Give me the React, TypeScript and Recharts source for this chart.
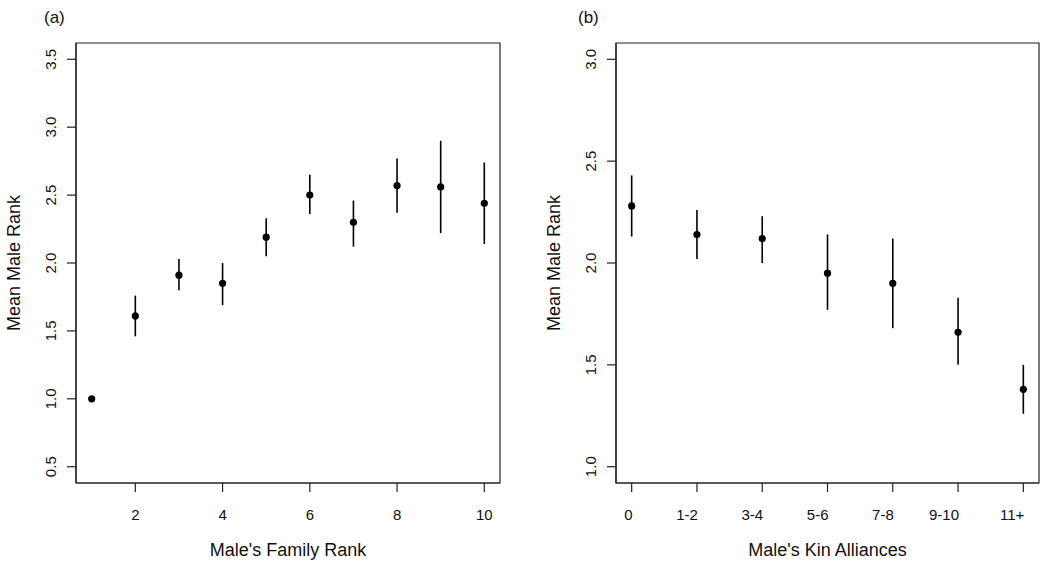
import React from 'react';
import { ScatterChart, Scatter, XAxis, YAxis, ErrorBar, ReferenceArea } from 'recharts';

// Panel (a): male's family rank
const familyRank = [1, 2, 3, 4, 5, 6, 7, 8, 9, 10];
const familyMean = [1.0, 1.61, 1.91, 1.85, 2.19, 2.5, 2.3, 2.57, 2.56, 2.44];
const familyLow = [1.0, 1.46, 1.8, 1.69, 2.05, 2.36, 2.12, 2.37, 2.22, 2.14];
const familyHigh = [1.0, 1.76, 2.03, 2.0, 2.33, 2.65, 2.46, 2.77, 2.9, 2.74];
const familyXTicks = [2, 4, 6, 8, 10];
const familyYTicks = [0.5, 1.0, 1.5, 2.0, 2.5, 3.0, 3.5];

// Panel (b): male's kin alliances
const kinLabels = ['0', '1-2', '3-4', '5-6', '7-8', '9-10', '11+'];
const kinMean = [2.28, 2.14, 2.12, 1.95, 1.9, 1.66, 1.38];
const kinLow = [2.13, 2.02, 2.0, 1.77, 1.68, 1.5, 1.26];
const kinHigh = [2.43, 2.26, 2.23, 2.14, 2.12, 1.83, 1.5];
const kinYTicks = [1.0, 1.5, 2.0, 2.5, 3.0];

const familyData = familyRank.map((x, i) => ({
  x,
  y: familyMean[i],
  err: [familyMean[i] - familyLow[i], familyHigh[i] - familyMean[i]],
}));

const kinData = kinLabels.map((_, i) => ({
  x: i + 1,
  y: kinMean[i],
  err: [kinMean[i] - kinLow[i], kinHigh[i] - kinMean[i]],
}));

// R-style padded limits (4% each side)
const familyXDomain = [0.64, 10.36];
const familyYDomain = [0.38, 3.62];
const kinXDomain = [0.76, 7.24];
const kinYDomain = [0.92, 3.08];

const FONT = '"Liberation Sans", Arial, Helvetica, sans-serif';
const INK = '#111';

const YTick = (props: any) => {
  const { x, y, payload } = props;
  return (
    <text
      transform={`translate(${x - 9},${y}) rotate(-90)`}
      textAnchor="middle"
      fontSize={15}
      fontFamily={FONT}
      fill={INK}
    >
      {Number(payload.value).toFixed(1)}
    </text>
  );
};

const FamilyXTick = (props: any) => {
  const { x, y, payload } = props;
  return (
    <text x={x} y={y + 26} textAnchor="middle" fontSize={15} fontFamily={FONT} fill={INK}>
      {payload.value}
    </text>
  );
};

const KinXTick = (props: any) => {
  const { x, y, payload } = props;
  return (
    <text x={x + 1} y={y + 26} textAnchor="end" fontSize={15} fontFamily={FONT} fill={INK}>
      {kinLabels[payload.value - 1]}
    </text>
  );
};

const YTitle = (props: any) => {
  const { viewBox } = props;
  const cx = viewBox.x + viewBox.width - 56;
  const cy = viewBox.y + viewBox.height / 2;
  return (
    <text
      transform={`translate(${cx},${cy}) rotate(-90)`}
      textAnchor="middle"
      fontSize={18}
      fontFamily={FONT}
      fill={INK}
    >
      {props.text}
    </text>
  );
};

const XTitle = (props: any) => {
  const { viewBox } = props;
  return (
    <text
      x={viewBox.x + viewBox.width / 2}
      y={viewBox.y + 73}
      textAnchor="middle"
      fontSize={18}
      fontFamily={FONT}
      fill={INK}
    >
      {props.text}
    </text>
  );
};

const PanelTag = (props: any) => (
  <text x={props.tx} y={23} fontSize={17} fontFamily={FONT} fill={INK}>
    {props.text}
  </text>
);

const Dot = (p: any) => <circle cx={p.cx} cy={p.cy} r={3.6} fill="#000" />;

const axisLine = { stroke: '#222', strokeWidth: 1.2 };
const tickLine = { stroke: '#222', strokeWidth: 1.2 };

export default function App() {
  return (
    <div
      style={{
        position: 'absolute',
        left: 0,
        top: 0,
        width: 1050,
        height: 571,
        background: '#fff',
        fontFamily: FONT,
      }}
    >
      <div style={{ position: 'absolute', left: 0, top: 0 }}>
        <ScatterChart width={525} height={571} margin={{ top: 43, right: 25, bottom: 0, left: 0 }}>
          <XAxis
            dataKey="x"
            type="number"
            domain={familyXDomain}
            ticks={familyXTicks}
            allowDataOverflow
            height={88}
            tickSize={9}
            tickMargin={2}
            axisLine={axisLine}
            tickLine={tickLine}
            tick={<FamilyXTick />}
            label={<XTitle text="Male's Family Rank" />}
          />
          <YAxis
            dataKey="y"
            type="number"
            domain={familyYDomain}
            ticks={familyYTicks}
            allowDataOverflow
            width={76}
            tickSize={9}
            tickMargin={2}
            axisLine={axisLine}
            tickLine={tickLine}
            tick={<YTick />}
            label={<YTitle text="Mean Male Rank" />}
          />
          <ReferenceArea
            x1={familyXDomain[0]}
            x2={familyXDomain[1]}
            y1={familyYDomain[0]}
            y2={familyYDomain[1]}
            fill="none"
            stroke="#222"
            strokeWidth={1.2}
            ifOverflow="visible"
            label={<PanelTag text="(a)" tx={44} />}
          />
          <Scatter data={familyData} shape={Dot} isAnimationActive={false}>
            <ErrorBar dataKey="err" direction="y" width={0} stroke="#000" strokeWidth={1.6} isAnimationActive={false} />
          </Scatter>
        </ScatterChart>
      </div>
      <div style={{ position: 'absolute', left: 525, top: 0 }}>
        <ScatterChart width={525} height={571} margin={{ top: 43, right: 11, bottom: 0, left: 0 }}>
          <XAxis
            dataKey="x"
            type="number"
            domain={kinXDomain}
            ticks={[1, 2, 3, 4, 5, 6, 7]}
            allowDataOverflow
            height={88}
            tickSize={9}
            tickMargin={2}
            axisLine={axisLine}
            tickLine={tickLine}
            tick={<KinXTick />}
            label={<XTitle text="Male's Kin Alliances" />}
          />
          <YAxis
            dataKey="y"
            type="number"
            domain={kinYDomain}
            ticks={kinYTicks}
            allowDataOverflow
            width={91}
            tickSize={9}
            tickMargin={2}
            axisLine={axisLine}
            tickLine={tickLine}
            tick={<YTick />}
            label={<YTitle text="Mean Male Rank" />}
          />
          <ReferenceArea
            x1={kinXDomain[0]}
            x2={kinXDomain[1]}
            y1={kinYDomain[0]}
            y2={kinYDomain[1]}
            fill="none"
            stroke="#222"
            strokeWidth={1.2}
            ifOverflow="visible"
            label={<PanelTag text="(b)" tx={53} />}
          />
          <Scatter data={kinData} shape={Dot} isAnimationActive={false}>
            <ErrorBar dataKey="err" direction="y" width={0} stroke="#000" strokeWidth={1.6} isAnimationActive={false} />
          </Scatter>
        </ScatterChart>
      </div>
    </div>
  );
}
